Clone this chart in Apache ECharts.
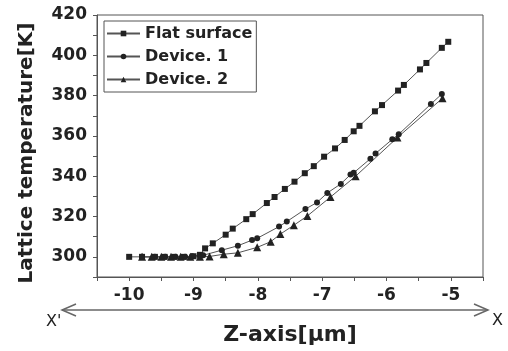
<!DOCTYPE html>
<html>
<head>
<meta charset="utf-8">
<script src="https://cdn.jsdelivr.net/npm/echarts@6/dist/echarts.min.js"></script>
<style>
  html, body { margin: 0; padding: 0; background: #fff; }
  #chart { width: 508px; height: 351px; }
</style>
</head>
<body>
<div id="chart"></div>
<script>
// values
var flatX = [-10.0, -9.8, -9.6, -9.45, -9.3, -9.15, -9.0, -8.9, -8.82, -8.70, -8.50, -8.39, -8.18, -8.08, -7.86, -7.74, -7.58, -7.43, -7.27, -7.13, -6.97, -6.80, -6.65, -6.51, -6.42, -6.18, -6.07, -5.82, -5.73, -5.48, -5.38, -5.14, -5.04];
var flatY = [300, 300, 300, 300, 300, 300, 300.3, 301, 304.2, 306.7, 311, 314, 318.7, 321.2, 326.7, 329.7, 333.7, 337.3, 341.5, 345, 349.7, 353.8, 358, 362.3, 365, 372.2, 375.3, 382.5, 385.3, 393, 396.2, 403.7, 406.7];

var dev1X = [-9.8, -9.6, -9.44, -9.28, -9.13, -9.02, -8.85, -8.56, -8.31, -8.09, -8.01, -7.67, -7.55, -7.26, -7.08, -6.92, -6.71, -6.56, -6.51, -6.25, -6.17, -5.91, -5.81, -5.31, -5.14];
var dev1Y = [300, 300, 300, 300, 300, 300.3, 300.8, 303.3, 305.5, 308.3, 309.2, 315, 317.5, 323.7, 327, 331.7, 336.2, 340.8, 341.7, 348.7, 351.3, 358.3, 360.8, 375.8, 380.8];

var dev2X = [-9.8, -9.65, -9.5, -9.35, -9.2, -9.05, -8.9, -8.75, -8.53, -8.31, -8.01, -7.8, -7.65, -7.44, -7.23, -6.87, -6.48, -5.83, -5.13];
var dev2Y = [300, 300, 300, 300, 300, 300, 300, 300.2, 301.3, 302, 304.7, 307.5, 311.3, 315.7, 320.3, 329.7, 340, 359.2, 378.7];

var seriesNames = ['Flat surface', 'Device. 1', 'Device. 2'];

function pairs(xs, ys) {
	return xs.map(function (x, i) { return [x, ys[i]]; });
}

var font = 'DejaVu Sans';
var myChart = echarts.init(document.getElementById('chart'));

var lineStyle = { color: '#555', width: 1 };
var itemStyle = { color: '#222' };

var option = {
	animation: false,
	backgroundColor: '#fff',
	grid: {
		left: 97, right: 25, top: 15, bottom: 74,
		show: true, borderColor: '#555', borderWidth: 1
	},
	legend: {
		orient: 'vertical',
		left: 104, top: 21,
		padding: [3, 4, 3, 2],
		itemGap: 4,
		itemWidth: 33, itemHeight: 7,
		borderColor: '#555', borderWidth: 1,
		data: seriesNames,
		textStyle: { fontFamily: font, fontWeight: 'bold', fontSize: 16, color: '#222', lineHeight: 19 }
	},
	xAxis: {
		type: 'value',
		min: -10.5, max: -4.5, interval: 0.5,
		name: 'Z-axis[\u03bcm]',
		nameLocation: 'middle',
		nameGap: 47,
		nameTextStyle: { fontFamily: font, fontWeight: 'bold', fontSize: 22, color: '#222' },
		axisLine: { show: true, lineStyle: { color: '#555' } },
		axisTick: { show: true, inside: false, length: 4, lineStyle: { color: '#555' } },
		splitLine: { show: false },
		axisLabel: {
			fontFamily: font, fontWeight: 'bold', fontSize: 17, color: '#222', margin: 10,
			formatter: function (v) { return Number.isInteger(v) ? String(v) : ''; }
		}
	},
	yAxis: {
		type: 'value',
		min: 290, max: 420, interval: 10,
		name: 'Lattice temperature[K]',
		nameLocation: 'middle',
		nameGap: 60,
		nameTextStyle: { fontFamily: font, fontWeight: 'bold', fontSize: 20, color: '#222', padding: [0, 14, 0, 0] },
		axisLine: { show: true, lineStyle: { color: '#555' } },
		axisTick: { show: true, inside: false, length: 4, lineStyle: { color: '#555' } },
		splitLine: { show: false },
		axisLabel: {
			fontFamily: font, fontWeight: 'bold', fontSize: 17, color: '#222', margin: 10,
			formatter: function (v) { return v % 20 === 0 ? String(v) : ''; }
		}
	},
	graphic: [
		{ type: 'line', shape: { x1: 62, y1: 310, x2: 488, y2: 310 }, style: { stroke: '#666', lineWidth: 1.5 } },
		{ type: 'polyline', shape: { points: [[76, 304], [62, 310], [76, 316]] }, style: { stroke: '#666', lineWidth: 1.5, fill: null } },
		{ type: 'polyline', shape: { points: [[474, 304], [488, 310], [474, 316]] }, style: { stroke: '#666', lineWidth: 1.5, fill: null } },
		{ type: 'text', left: 46, top: 314, style: { text: "X'", font: '16px "DejaVu Sans"', fill: '#222' } },
		{ type: 'text', left: 492, top: 313, style: { text: 'X', font: '16px "DejaVu Sans"', fill: '#222' } }
	],
	series: [
		{
			name: seriesNames[0], type: 'line', symbol: 'rect', symbolSize: 6,
			lineStyle: lineStyle, itemStyle: itemStyle,
			data: pairs(flatX, flatY)
		},
		{
			name: seriesNames[1], type: 'line', symbol: 'circle', symbolSize: 6,
			lineStyle: lineStyle, itemStyle: itemStyle,
			data: pairs(dev1X, dev1Y)
		},
		{
			name: seriesNames[2], type: 'line', symbol: 'triangle', symbolSize: 8,
			lineStyle: lineStyle, itemStyle: itemStyle,
			data: pairs(dev2X, dev2Y)
		}
	]
};

myChart.setOption(option);
</script>
</body>
</html>
